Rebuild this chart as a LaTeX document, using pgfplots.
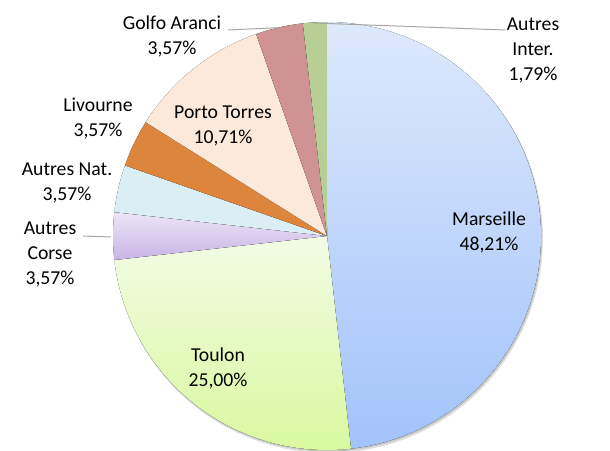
\documentclass[border=0pt]{standalone}
\usepackage{pgfplots}
\pgfplotsset{compat=1.18}
\usepackage{fontspec}
\setmainfont{Carlito}
\definecolor{mA}{HTML}{DDE9FC}
\definecolor{mB}{HTML}{A2C3FA}
\definecolor{tA}{HTML}{F2FBE4}
\definecolor{tB}{HTML}{D8F99D}
\definecolor{cA}{HTML}{ECE5F6}
\definecolor{cB}{HTML}{C8B4E6}
\definecolor{nA}{HTML}{DAEEF3}
\definecolor{lA}{HTML}{DD843D}
\definecolor{pA}{HTML}{FCE9DA}
\definecolor{gA}{HTML}{D09393}
\definecolor{iA}{HTML}{B8CE97}
\definecolor{leader}{HTML}{A6A6A6}
\begin{document}
\begin{tikzpicture}
\begin{axis}[
  scale only axis, width=610pt, height=450pt,
  xmin=0, xmax=610, ymin=0, ymax=450,
  hide axis, clip=false,
]
\coordinate (sw) at (axis cs:0,0);
\coordinate (ne) at (axis cs:610,450);
\def\cx{327}\def\cy{214}\def\R{214}
% soft shadow
\fill[black!12] (axis cs:328.5,211.5) circle[radius=214.5pt];
\fill[black!22] (axis cs:328,212.5) circle[radius=214pt];
\xdef\cum{90}
\foreach \v/\ca/\cb in {48.21/mA/mB, 25.00/tA/tB, 3.57/cA/cB, 3.57/nA/nA, 3.57/lA/lA, 10.71/pA/pA, 3.57/gA/gA, 1.79/iA/iA}{
  \pgfmathsetmacro\e{\cum-3.6*\v}
  \edef\temp{\noexpand\fill[top color=\ca, bottom color=\cb] (axis cs:\cx,\cy) -- +(\cum:\R pt) arc[start angle=\cum, end angle=\e, radius=\R pt] -- cycle;}
  \temp
  \xdef\cum{\e}
}
% leader lines
\draw[leader, line width=1pt] (axis cs:314,427) -- (axis cs:505,420);
\draw[leader, line width=1pt] (axis cs:228,420) -- (axis cs:278,422.3);
\draw[leader, line width=1pt] (axis cs:83,214) -- (axis cs:111,213);
% labels
\begin{scope}[every node/.style={align=center, font=\fontsize{19.7}{25}\selectfont, inner sep=0pt}]
\node at (axis cs:489,217.5) {Marseille\\48,21\%};
\node at (axis cs:218,81.5) {Toulon\\25,00\%};
\node at (axis cs:50,196) {Autres\\Corse\\3,57\%};
\node at (axis cs:67,267) {Autres Nat.\\3,57\%};
\node at (axis cs:98,332) {Livourne\\3,57\%};
\node at (axis cs:223,324) {Porto Torres\\10,71\%};
\node at (axis cs:172,413.5) {Golfo Aranci\\3,57\%};
\node at (axis cs:533,400) {Autres\\Inter.\\1,79\%};
\end{scope}
\end{axis}
\pgfresetboundingbox
\useasboundingbox (sw) rectangle (ne);
\end{tikzpicture}
\end{document}
